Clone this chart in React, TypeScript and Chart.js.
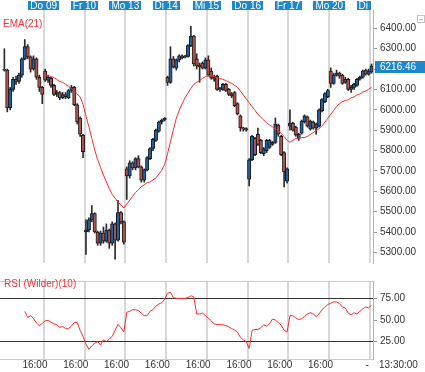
import { useEffect, useRef } from 'react';
import { Chart, registerables } from 'chart.js';

Chart.register(...registerables);

// ---------- data ----------
const dayLabels = ['Do 09', 'Fr 10', 'Mo 13', 'Di 14', 'Mi 15', 'Do 16', 'Fr 17', 'Mo 20', 'Di 21'];
const dayBoundaries = [13.5, 27.5, 41.5, 55.5, 69.5, 83.5, 97.5, 111.5, 125.5];
const bottomTickValues = [10.5, 24.5, 38.5, 52.5, 66.5, 80.5, 94.5, 108.5, 124.5];
const bottomTickLabels = ['16:00', '16:00', '16:00', '16:00', '16:00', '16:00', '16:00', '16:00', '-'];
const priceTicks = [5300, 5400, 5500, 5600, 5700, 5800, 5900, 6000, 6100, 6200, 6300, 6400];
const rsiTicks = [25, 50, 75];
const lastTimeLabel = '13:30:00';

const opens = [
  6200, 6195, 6010, 6100, 6150, 6140, 6170, 6250, 6310, 6260, 6200, 6250, 6160, 6110,
  6190, 6145, 6155, 6120, 6075, 6085, 6060, 6075, 6060, 6095, 6110, 6025, 5960, 5875,
  5400, 5410, 5460, 5490, 5400, 5345, 5395, 5355, 5410, 5345, 5440, 5360, 5495, 5450,
  5710, 5675, 5740, 5715, 5760, 5720, 5655, 5705, 5760, 5810, 5850, 5895, 5940, 5950,
  6160, 6135, 6250, 6205, 6245, 6265, 6258, 6262, 6315, 6362, 6250, 6220, 6230, 6205,
  6245, 6190, 6160, 6165, 6105, 6100, 6125, 6100, 6078, 6085, 6030, 5970, 5912, 5900,
  5660, 5755, 5860, 5880, 5850, 5785, 5800, 5815, 5830, 5840, 5925, 5870, 5790, 5650,
  5920, 5935, 5915, 5860, 5885, 5940, 5965, 5905, 5940, 5910, 5920, 5995, 6040, 6065,
  6190, 6130, 6170, 6180, 6170, 6135, 6150, 6100, 6110, 6120, 6150, 6160, 6195, 6175,
  6185,
];
const highs = [
  6300, 6200, 6110, 6160, 6165, 6180, 6255, 6345, 6320, 6265, 6265, 6255, 6170, 6115,
  6200, 6170, 6160, 6125, 6095, 6090, 6085, 6085, 6100, 6120, 6115, 6030, 5965, 5880,
  5460, 5470, 5530, 5495, 5405, 5405, 5425, 5440, 5415, 5450, 5445, 5556, 5500, 5455,
  5720, 5750, 5745, 5765, 5775, 5725, 5710, 5770, 5815, 5860, 5905, 5945, 5955, 5962,
  6165, 6310, 6262, 6250, 6270, 6270, 6268, 6320, 6410, 6365, 6275, 6230, 6235, 6255,
  6265, 6205, 6170, 6170, 6110, 6130, 6130, 6105, 6085, 6090, 6035, 5975, 5915, 5912,
  5760, 5875, 5865, 5910, 5855, 5815, 5855, 5855, 5845, 5960, 5930, 5875, 5795, 5715,
  6000, 5940, 5920, 5885, 5950, 5975, 5970, 5950, 5945, 5935, 6005, 6055, 6085, 6100,
  6206, 6180, 6195, 6185, 6175, 6160, 6155, 6120, 6130, 6155, 6165, 6195, 6200, 6200,
  6225,
];
const lows = [
  6190, 5990, 6000, 6090, 6125, 6130, 6160, 6245, 6250, 6185, 6195, 6150, 6090, 6030,
  6140, 6135, 6110, 6070, 6065, 6050, 6055, 6055, 6055, 6085, 6020, 5930, 5870, 5765,
  5290, 5400, 5450, 5395, 5335, 5335, 5345, 5350, 5320, 5335, 5267, 5355, 5440, 5340,
  5560, 5665, 5705, 5705, 5715, 5645, 5645, 5700, 5755, 5800, 5845, 5890, 5930, 5945,
  6120, 6130, 6205, 6195, 6235, 6250, 6255, 6258, 6310, 6215, 6200, 6135, 6200, 6200,
  6165, 6150, 6140, 6095, 6090, 6095, 6090, 6070, 6060, 6015, 5975, 5895, 5895, 5895,
  5627, 5750, 5775, 5825, 5785, 5775, 5790, 5810, 5825, 5835, 5870, 5775, 5622, 5640,
  5900, 5895, 5870, 5850, 5880, 5935, 5915, 5900, 5905, 5880, 5915, 5990, 6035, 6060,
  6110, 6125, 6165, 6155, 6125, 6130, 6095, 6085, 6100, 6115, 6145, 6155, 6170, 6170,
  6180,
];
const closes = [
  6195, 6010, 6100, 6150, 6140, 6170, 6250, 6310, 6260, 6200, 6250, 6160, 6110, 6075,
  6145, 6160, 6120, 6075, 6085, 6060, 6075, 6065, 6095, 6110, 6025, 5940, 5880, 5795,
  5410, 5460, 5490, 5400, 5345, 5395, 5355, 5410, 5345, 5440, 5360, 5495, 5450, 5350,
  5675, 5740, 5715, 5760, 5720, 5655, 5705, 5765, 5810, 5855, 5900, 5940, 5950, 5958,
  6135, 6250, 6210, 6245, 6265, 6255, 6262, 6315, 6362, 6225, 6215, 6210, 6205, 6245,
  6170, 6155, 6150, 6100, 6098, 6125, 6095, 6075, 6068, 6020, 5980, 5912, 5905, 5908,
  5755, 5870, 5780, 5830, 5790, 5810, 5850, 5850, 5840, 5930, 5880, 5780, 5695, 5710,
  5935, 5900, 5875, 5880, 5945, 5970, 5920, 5945, 5910, 5930, 6000, 6050, 6080, 6095,
  6130, 6170, 6180, 6165, 6130, 6150, 6100, 6110, 6125, 6150, 6160, 6190, 6175, 6190,
  6216.46,
];

const EMA_START = 14;
const emaValues = [
  6172, 6168, 6163, 6158, 6149, 6139, 6135, 6125, 6116, 6106,
  6092, 6078, 6063, 6026, 5969, 5917, 5860, 5803, 5756, 5717,
  5680, 5646, 5613, 5585, 5566, 5547, 5533, 5518, 5537, 5556,
  5575, 5594, 5608, 5623, 5632, 5642, 5646, 5656, 5665, 5684,
  5703, 5732, 5784, 5845, 5902, 5959, 5997, 6030, 6059, 6082,
  6106, 6125, 6135, 6144, 6154, 6163, 6168, 6168, 6163, 6158,
  6154, 6149, 6144, 6135, 6130, 6120, 6111, 6092, 6073, 6054,
  6035, 6016, 5997, 5978, 5964, 5950, 5935, 5926, 5917, 5907,
  5898, 5883, 5869, 5850, 5841, 5850, 5860, 5860, 5864, 5864,
  5869, 5879, 5888, 5898, 5907, 5921, 5940, 5959, 5978, 5997,
  6016, 6030, 6040, 6045, 6049, 6059, 6063, 6073, 6078, 6087,
  6092, 6101, 6111,
];

const RSI_START = 7;
const rsiValues = [
  60, 53, 55, 51.6, 46.5, 43.5, 46, 49, 49.5, 47.5,
  45.5, 44.5, 41.5, 42.5, 40, 40, 43, 47, 47, 38,
  31, 22, 16, 20, 23, 25, 21, 27, 25, 28,
  31, 38, 45, 41, 36, 59, 60, 62, 62, 61,
  58, 55, 55, 60, 62, 66, 68.5, 70, 74, 81,
  82, 76, 75, 75, 75, 75, 76, 78, 77, 57,
  57, 58, 55, 52, 49, 45.5, 44.5, 44.5, 44.5, 43.5,
  42, 40, 38.5, 36, 30, 27, 25, 17, 38, 39,
  39, 41, 44.5, 43, 46, 51, 50, 47, 44, 38,
  36, 55, 55, 52.5, 50.5, 51.5, 54, 57, 58.5, 57,
  54, 57, 62, 65, 68, 69.5, 71, 71, 69, 65,
  64, 58, 56, 58.5, 57, 60, 63, 65, 64, 67,
];

// ---------- styles ----------
const FONT = "'Liberation Sans', Arial, Helvetica, sans-serif";
const UP = '#1d62a6';
const DOWN = '#b3514a';
const OUTLINE = '#1a1a1a';
const WICK = '#2a2a2a';
const GRID = '#d8d8d8';
const AXIS = '#b4b4b4';
const LABEL = '#333333';
const RED = '#ff2b2b';
const TITLE_RED = '#e8343c';
const BOX_BLUE = '#1e88c8';
const X_MIN = -1.5;
const X_MAX = 126.5;

export default function App() {
  const topRef = useRef<HTMLCanvasElement>(null);
  const botRef = useRef<HTMLCanvasElement>(null);

  useEffect(() => {
    document.body.style.margin = '0';
    Chart.defaults.font.family = FONT;

    const mainOverlay = {
      id: 'mainOverlay',
      afterDraw(chart: any) {
        const { ctx, chartArea, scales } = chart;
        const xs = scales.x;
        const ys = scales.y;
        ctx.save();
        ctx.font = `10px ${FONT}`;
        ctx.textBaseline = 'middle';
        ctx.textAlign = 'left';
        ctx.fillStyle = TITLE_RED;
        ctx.fillText('EMA(21)', 3, 24);

        // day labels on top, clipped to plot width
        ctx.save();
        ctx.beginPath();
        ctx.rect(0, 0, chartArea.right - 2, chartArea.top + 1);
        ctx.clip();
        dayBoundaries.forEach((v, k) => {
          const px = xs.getPixelForValue(v);
          const label = dayLabels[k];
          const w = Math.round(ctx.measureText(label).width + 4);
          ctx.fillStyle = BOX_BLUE;
          ctx.fillRect(Math.round(px - w / 2), 1, w, 9);
          ctx.fillStyle = '#ffffff';
          ctx.textAlign = 'center';
          ctx.fillText(label, px, 6);
        });
        ctx.restore();

        // small collapse icon at top right
        ctx.strokeStyle = '#c4c4c4';
        ctx.lineWidth = 1;
        ctx.strokeRect(417.5, 15.5, 7, 7);
        ctx.beginPath();
        ctx.moveTo(419, 19.5);
        ctx.lineTo(423, 19.5);
        ctx.stroke();

        // current price box
        const last = closes[closes.length - 1];
        const py = Math.round(ys.getPixelForValue(last)) + 1;
        ctx.fillStyle = BOX_BLUE;
        ctx.fillRect(chartArea.right + 2, py - 6, 425 - chartArea.right - 2, 12);
        ctx.fillStyle = '#ffffff';
        ctx.textAlign = 'left';
        ctx.font = `10px ${FONT}`;
        ctx.fillText(last.toFixed(2), chartArea.right + 7, py);
        ctx.restore();
      },
    };

    const rsiOverlay = {
      id: 'rsiOverlay',
      afterDraw(chart: any) {
        const { ctx, chartArea } = chart;
        ctx.save();
        ctx.font = `10px ${FONT}`;
        ctx.textBaseline = 'middle';
        ctx.textAlign = 'left';
        ctx.fillStyle = TITLE_RED;
        ctx.fillText('RSI (Wilder)(10)', 4, 12);
        ctx.fillStyle = LABEL;
        ctx.fillText(lastTimeLabel, chartArea.right + 6, 93);
        ctx.restore();
      },
    };

    const bodyColors = closes.map((c, i) => (c >= opens[i] ? UP : DOWN));

    const main = new Chart(topRef.current as HTMLCanvasElement, {
      type: 'bar',
      data: {
        datasets: [
          {
            type: 'line',
            label: 'EMA(21)',
            data: emaValues.map((v, i) => ({ x: i + EMA_START, y: v })),
            borderColor: RED,
            borderWidth: 1,
            pointRadius: 0,
            tension: 0,
            order: 0,
          } as any,
          {
            type: 'bar',
            label: 'body',
            data: opens.map((o, i) => ({ x: i, y: [o, closes[i]] })),
            backgroundColor: bodyColors,
            borderColor: OUTLINE,
            borderWidth: 1,
            borderSkipped: false,
            barThickness: 3.4,
            minBarLength: 1,
            grouped: false,
            order: 1,
          } as any,
          {
            type: 'bar',
            label: 'wick',
            data: lows.map((l, i) => ({ x: i, y: [l, highs[i]] })),
            backgroundColor: WICK,
            borderWidth: 0,
            barThickness: 1,
            grouped: false,
            order: 2,
          } as any,
        ],
      },
      options: {
        responsive: false,
        animation: false,
        devicePixelRatio: 1,
        layout: { padding: 0 },
        plugins: { legend: { display: false }, tooltip: { enabled: false } },
        scales: {
          x: {
            type: 'linear',
            position: 'top',
            min: X_MIN,
            max: X_MAX,
            offset: false,
            afterBuildTicks: (ax: any) => {
              ax.ticks = dayBoundaries.map((v) => ({ value: v }));
            },
            afterFit: (ax: any) => {
              ax.height = 10;
            },
            ticks: { display: false },
            grid: { color: GRID, lineWidth: 2, drawTicks: false, offset: false },
            border: { display: false },
          },
          y: {
            type: 'linear',
            position: 'right',
            min: 5248,
            max: 6490,
            afterBuildTicks: (ax: any) => {
              ax.ticks = priceTicks.map((v) => ({ value: v }));
            },
            afterFit: (ax: any) => {
              ax.width = 52;
            },
            ticks: {
              color: LABEL,
              font: { size: 10 },
              padding: 3,
              callback: (v: any) => Number(v).toFixed(2),
            },
            grid: { drawOnChartArea: false, drawTicks: true, tickLength: 4, color: '#999999' },
            border: { display: true, color: AXIS },
          },
        },
      } as any,
      plugins: [mainOverlay],
    });

    const rsi = new Chart(botRef.current as HTMLCanvasElement, {
      type: 'line',
      data: {
        datasets: [
          {
            label: 'RSI (Wilder)(10)',
            data: rsiValues.map((v, i) => ({ x: i + RSI_START, y: v })),
            borderColor: RED,
            borderWidth: 1,
            pointRadius: 0,
            tension: 0,
            xAxisID: 'x',
            yAxisID: 'y',
          },
        ],
      },
      options: {
        responsive: false,
        animation: false,
        devicePixelRatio: 1,
        layout: { padding: { top: 2 } },
        plugins: { legend: { display: false }, tooltip: { enabled: false } },
        scales: {
          x: {
            type: 'linear',
            position: 'bottom',
            min: X_MIN,
            max: X_MAX,
            afterBuildTicks: (ax: any) => {
              ax.ticks = bottomTickValues.map((v) => ({ value: v }));
            },
            afterFit: (ax: any) => {
              ax.height = 13;
            },
            ticks: {
              color: LABEL,
              font: { size: 10, lineHeight: 1.2 },
              padding: 0,
              maxRotation: 0,
              autoSkip: false,
              callback: (_v: any, i: number) => bottomTickLabels[i],
            },
            grid: { display: false, drawTicks: false, tickLength: 0 },
            border: { display: true, color: '#cccccc' },
          },
          xg: {
            type: 'linear',
            axis: 'x',
            position: 'top',
            min: X_MIN,
            max: X_MAX,
            afterBuildTicks: (ax: any) => {
              ax.ticks = dayBoundaries.map((v) => ({ value: v }));
            },
            afterFit: (ax: any) => {
              ax.height = 0;
            },
            ticks: { display: false },
            grid: { color: GRID, lineWidth: 2, drawTicks: false },
            border: { display: true, color: '#cccccc' },
          },
          y: {
            type: 'linear',
            position: 'right',
            min: 4.8,
            max: 95.2,
            afterBuildTicks: (ax: any) => {
              ax.ticks = rsiTicks.map((v) => ({ value: v }));
            },
            afterFit: (ax: any) => {
              ax.width = 52;
            },
            ticks: {
              color: LABEL,
              font: { size: 10 },
              padding: 3,
              callback: (v: any) => Number(v).toFixed(2),
            },
            grid: {
              color: (c: any) => (c.tick && c.tick.value === 50 ? 'rgba(0,0,0,0)' : '#333333'),
              tickColor: '#999999',
              tickLength: 4,
              lineWidth: 1,
            },
            border: { display: true, color: AXIS },
          },
        },
      } as any,
      plugins: [rsiOverlay],
    });

    return () => {
      main.destroy();
      rsi.destroy();
    };
  }, []);

  return (
    <div style={{ position: 'absolute', left: 0, top: 0, width: 425, height: 372, background: '#ffffff' }}>
      <canvas ref={topRef} width={425} height={272} style={{ display: 'block' }} />
      <canvas ref={botRef} width={425} height={100} style={{ display: 'block' }} />
    </div>
  );
}
